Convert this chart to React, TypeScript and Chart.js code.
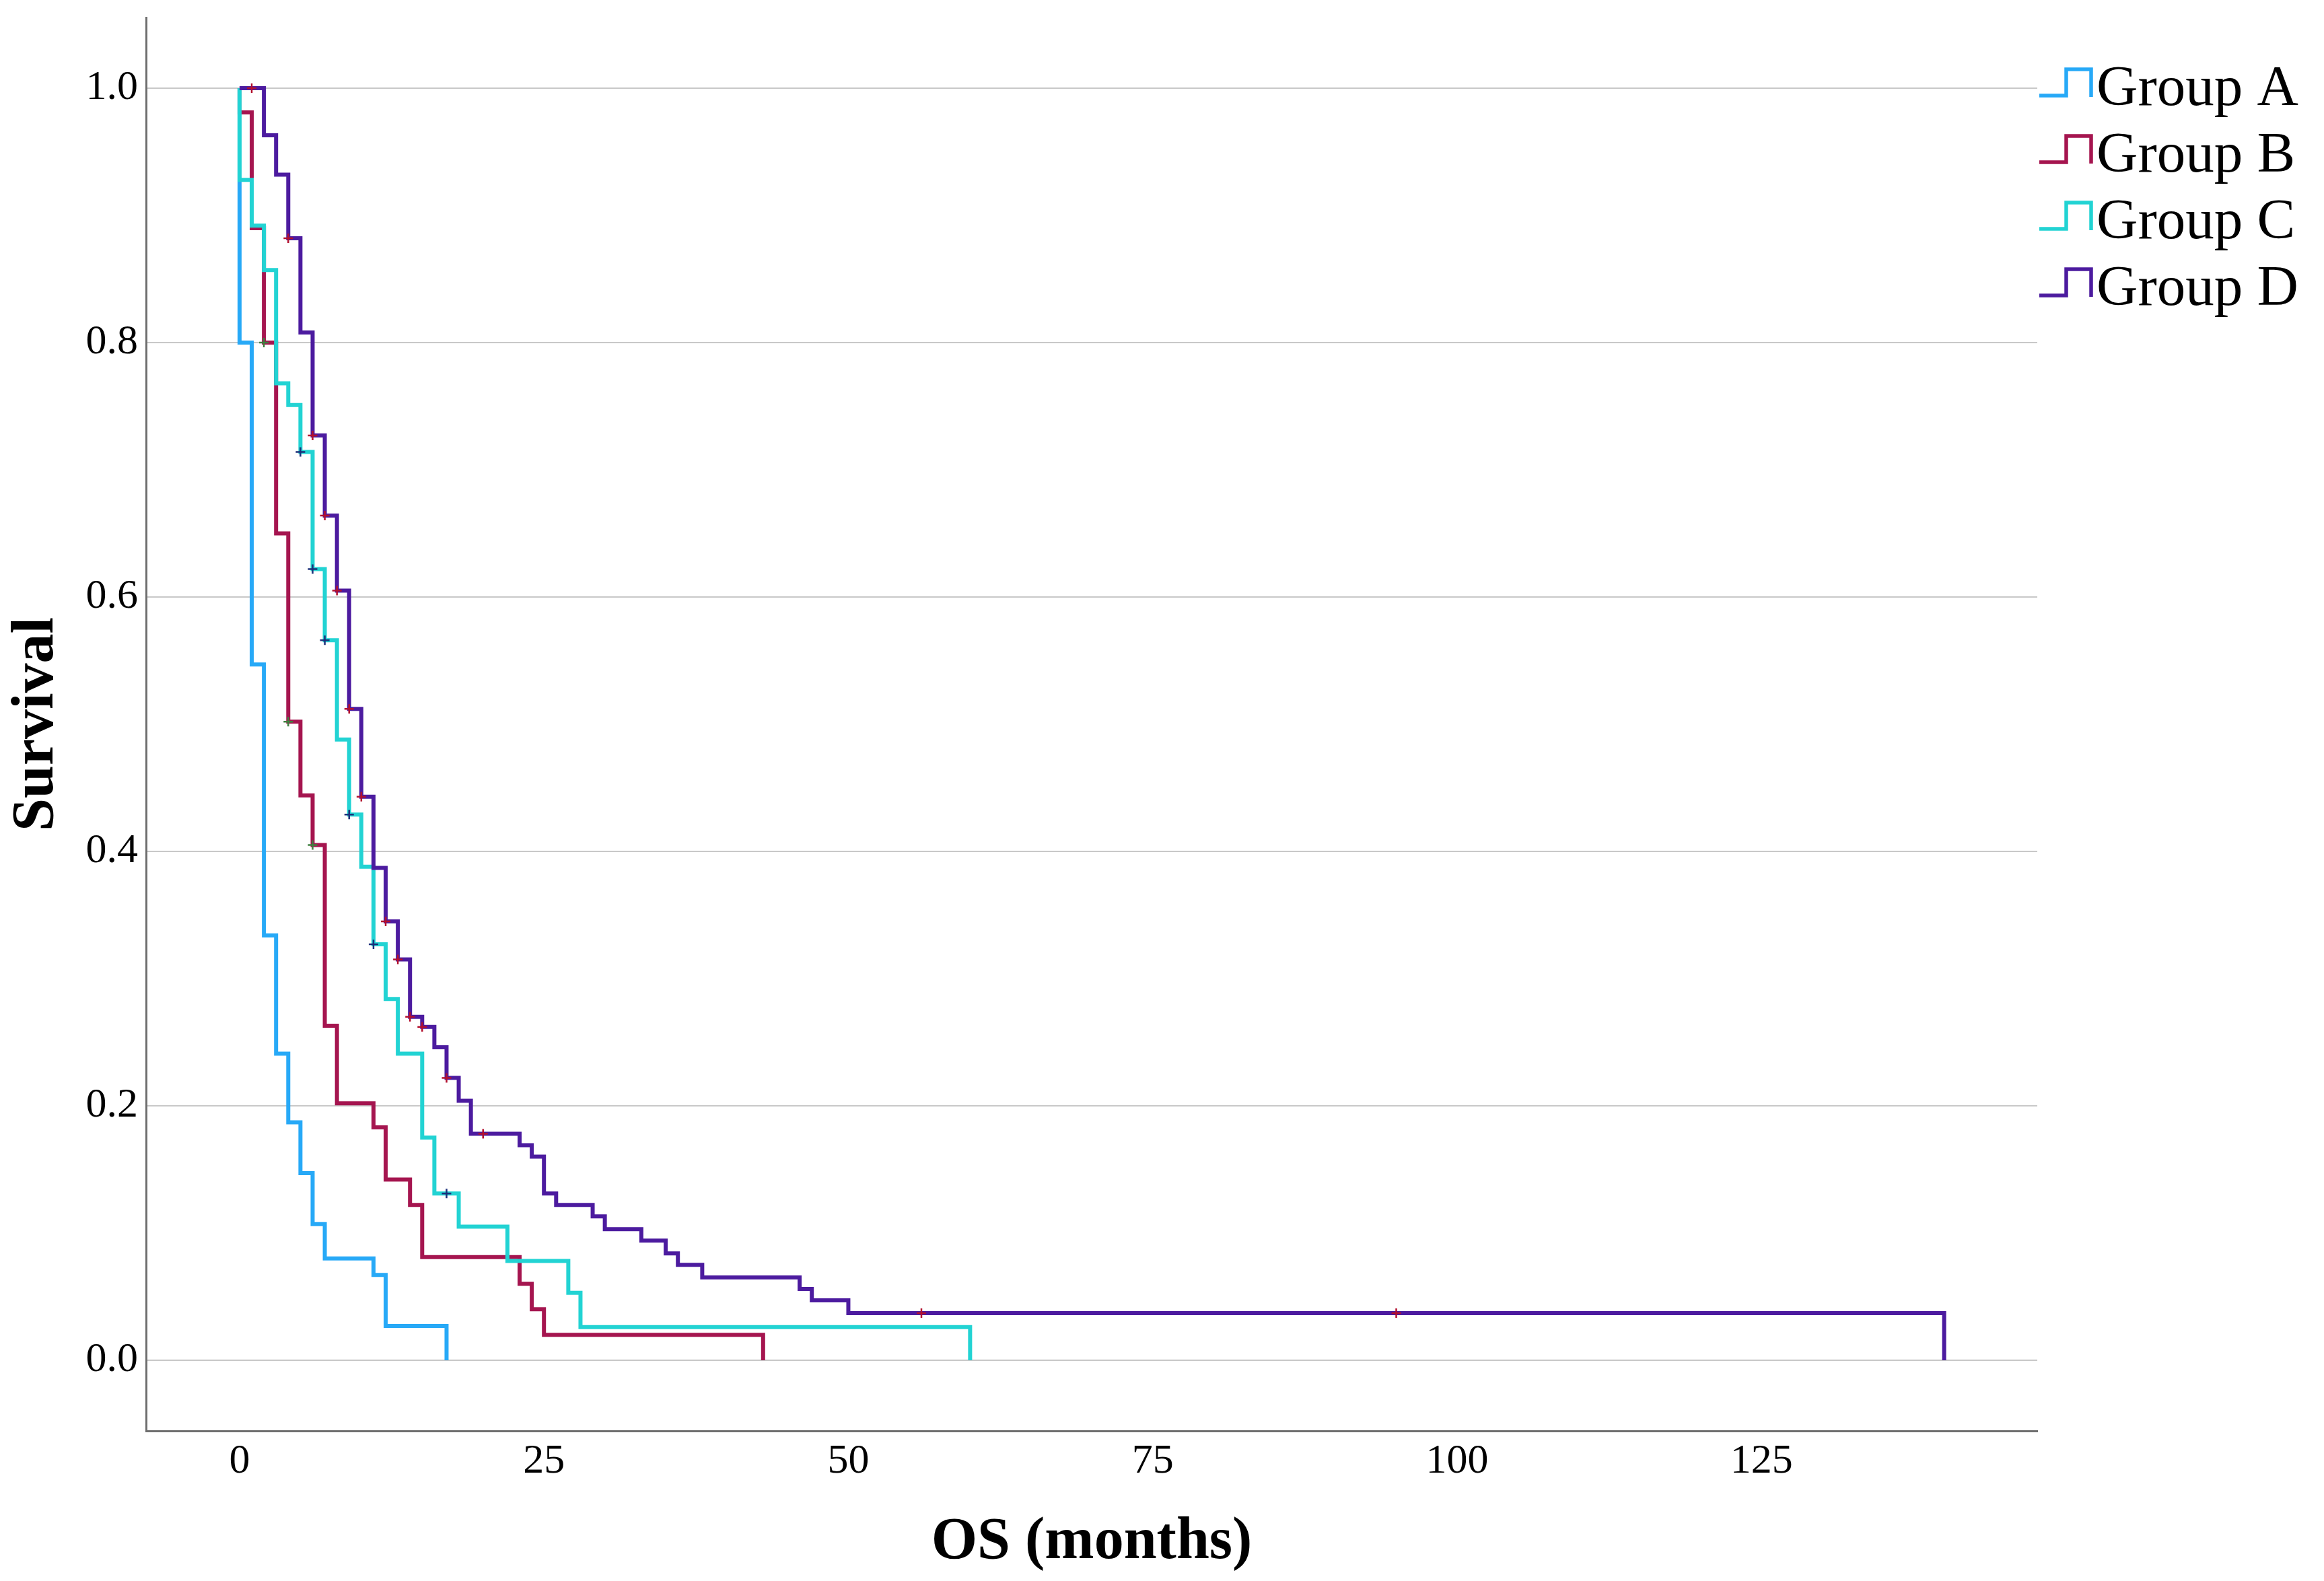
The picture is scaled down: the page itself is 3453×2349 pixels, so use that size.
import React, { useEffect, useRef } from 'react';
import { Chart, registerables } from 'chart.js';

Chart.register(...registerables);

const W = 3453;
const H = 2349;

// ---------- data ----------
const groupLabels = ['Group A', 'Group B', 'Group C', 'Group D'];
const groupColors = ['#27a9f7', '#a5154f', '#22d3d3', '#4c1b9f'];
const censorColors = ['#1c2f7a', '#3f7f3f', '#1c2f7a', '#b3102e'];

const timesA = [0, 0, 1, 2, 3, 4, 5, 6, 7, 11, 12, 17];
const survA = [1, 0.8, 0.547, 0.334, 0.241, 0.187, 0.147, 0.107, 0.08, 0.067, 0.027, 0];
const censorTimesA: number[] = [];
const censorSurvA: number[] = [];

const timesB = [0, 0, 1, 2, 3, 4, 5, 6, 7, 8, 11, 12, 14, 15, 23, 24, 25, 43];
const survB = [1, 0.981, 0.89, 0.8, 0.65, 0.502, 0.444, 0.405, 0.263, 0.202, 0.183, 0.142, 0.122, 0.081, 0.06, 0.04, 0.02, 0];
const censorTimesB = [2, 4, 6];
const censorSurvB = [0.8, 0.502, 0.405];

const timesC = [0, 0, 1, 2, 3, 4, 5, 6, 7, 8, 9, 10, 11, 12, 13, 15, 16, 18, 22, 27, 28, 60];
const survC = [1, 0.928, 0.892, 0.857, 0.768, 0.751, 0.714, 0.622, 0.566, 0.488, 0.429, 0.388, 0.327, 0.284, 0.241, 0.175, 0.131, 0.105, 0.078, 0.053, 0.026, 0];
const censorTimesC = [5, 6, 7, 9, 11, 17];
const censorSurvC = [0.714, 0.622, 0.566, 0.429, 0.327, 0.131];

const timesD = [0, 2, 3, 4, 5, 6, 7, 8, 9, 10, 11, 12, 13, 14, 15, 16, 17, 18, 19, 23, 24, 25, 26, 29, 30, 33, 35, 36, 38, 46, 47, 50, 140];
const survD = [1, 0.963, 0.932, 0.882, 0.808, 0.727, 0.664, 0.605, 0.512, 0.443, 0.387, 0.345, 0.315, 0.27, 0.262, 0.246, 0.222, 0.204, 0.178, 0.169, 0.16, 0.131, 0.122, 0.113, 0.103, 0.094, 0.084, 0.075, 0.065, 0.056, 0.047, 0.037, 0];
const censorTimesD = [1, 4, 6, 7, 8, 9, 10, 12, 13, 14, 15, 17, 20, 56, 95];
const censorSurvD = [1.0, 0.882, 0.727, 0.664, 0.605, 0.512, 0.443, 0.345, 0.315, 0.27, 0.262, 0.222, 0.178, 0.037, 0.037];

const xTickValues = [0, 25, 50, 75, 100, 125];
const yTickValues = [0, 0.2, 0.4, 0.6, 0.8, 1.0];
const yTickLabels = ['0.0', '0.2', '0.4', '0.6', '0.8', '1.0'];

const xTitle = 'OS (months)';
const yTitle = 'Survival';

const allTimes = [timesA, timesB, timesC, timesD];
const allSurv = [survA, survB, survC, survD];
const allCensorTimes = [censorTimesA, censorTimesB, censorTimesC, censorTimesD];
const allCensorSurv = [censorSurvA, censorSurvB, censorSurvC, censorSurvD];

const FONT = "'Liberation Serif', 'Times New Roman', Times, serif";

// plot frame (canvas pixels)
const AREA_LEFT = 217;
const AREA_RIGHT = 3027;
const AREA_TOP = 26;
const AREA_BOTTOM = 2126;

export default function App() {
  const ref = useRef<HTMLCanvasElement | null>(null);

  useEffect(() => {
    const canvas = ref.current;
    if (!canvas) return;

    const toPts = (xs: number[], ys: number[]) => xs.map((x, i) => ({ x, y: ys[i] }));

    const censorSets = [3, 2, 1, 0]
      .filter((g) => allCensorTimes[g].length > 0)
      .map((g) => ({
        label: groupLabels[g] + ' censored',
        data: toPts(allCensorTimes[g], allCensorSurv[g]),
        showLine: false,
        pointStyle: 'cross' as const,
        pointRadius: 7,
        pointBorderWidth: 2.5,
        pointBorderColor: censorColors[g],
        borderColor: censorColors[g],
        backgroundColor: censorColors[g],
      }));

    // draw order: first dataset on top -> D, C, B, A
    const lineSets = [3, 2, 1, 0].map((g) => ({
      label: groupLabels[g],
      data: toPts(allTimes[g], allSurv[g]),
      stepped: 'before' as const,
      borderColor: groupColors[g],
      backgroundColor: groupColors[g],
      borderWidth: 6,
      pointRadius: 0,
      fill: false,
      borderCapStyle: 'butt' as const,
      borderJoinStyle: 'miter' as const,
    }));

    const stepLegend = {
      id: 'stepLegend',
      afterDraw(chart: any) {
        const c = chart.ctx as CanvasRenderingContext2D;
        const ca = chart.chartArea;
        const x0 = ca.right + 3;
        groupLabels.forEach((lab, i) => {
          const yb = ca.top + 116 + i * 99;
          const yt = yb - 39;
          c.save();
          c.strokeStyle = groupColors[i];
          c.lineWidth = 5.5;
          c.lineJoin = 'miter';
          c.beginPath();
          c.moveTo(x0, yb);
          c.lineTo(x0 + 40, yb);
          c.lineTo(x0 + 40, yt);
          c.lineTo(x0 + 77, yt);
          c.lineTo(x0 + 77, yb + 2);
          c.stroke();
          c.fillStyle = '#000';
          c.font = `85px ${FONT}`;
          c.textBaseline = 'alphabetic';
          c.textAlign = 'left';
          c.fillText(lab, x0 + 85, yb + 14);
          c.restore();
        });
      },
    };

    const chart = new Chart(canvas, {
      type: 'line',
      data: { datasets: [...censorSets, ...lineSets] as any },
      options: {
        responsive: false,
        animation: false,
        devicePixelRatio: 1,
        layout: { padding: { left: 0, top: AREA_TOP, right: W - AREA_RIGHT, bottom: 0 } },
        plugins: {
          legend: { display: false },
          tooltip: { enabled: false },
        },
        scales: {
          x: {
            type: 'linear',
            min: -7.68,
            max: 147.65,
            afterBuildTicks: (s: any) => {
              s.ticks = xTickValues.map((v) => ({ value: v }));
            },
            afterFit: (s: any) => {
              s.height = H - AREA_BOTTOM;
              s.paddingLeft = 0;
              s.paddingRight = 0;
            },
            grid: { drawOnChartArea: false, drawTicks: false },
            border: { display: true, color: '#6e6e6e', width: 3 },
            ticks: {
              color: '#000',
              font: { family: FONT, size: 62 },
              padding: 9,
              maxRotation: 0,
              autoSkip: false,
            },
            title: {
              display: true,
              text: xTitle,
              color: '#000',
              font: { family: FONT, size: 88, weight: 'bold' },
              padding: { top: 0, bottom: 4 },
            },
          },
          y: {
            type: 'linear',
            min: -0.0556,
            max: 1.0556,
            afterBuildTicks: (s: any) => {
              s.ticks = yTickValues.map((v) => ({ value: v }));
            },
            afterFit: (s: any) => {
              s.width = AREA_LEFT;
              s.paddingTop = 0;
              s.paddingBottom = 0;
            },
            grid: { color: '#c8c8c8', lineWidth: 2, drawTicks: false },
            border: { display: true, color: '#6e6e6e', width: 3 },
            ticks: {
              color: '#000',
              font: { family: FONT, size: 62 },
              padding: 12,
              callback: (_v: any, i: number) => yTickLabels[i],
            },
            title: {
              display: true,
              text: yTitle,
              color: '#000',
              font: { family: FONT, size: 88, weight: 'bold' },
              padding: { top: 2, bottom: 0 },
            },
          },
        },
      } as any,
      plugins: [stepLegend],
    });

    return () => chart.destroy();
  }, []);

  return (
    <div style={{ position: 'fixed', left: 0, top: 0, width: W, height: H, background: '#fff' }}>
      <canvas ref={ref} width={W} height={H} style={{ width: W, height: H, display: 'block' }} />
    </div>
  );
}
